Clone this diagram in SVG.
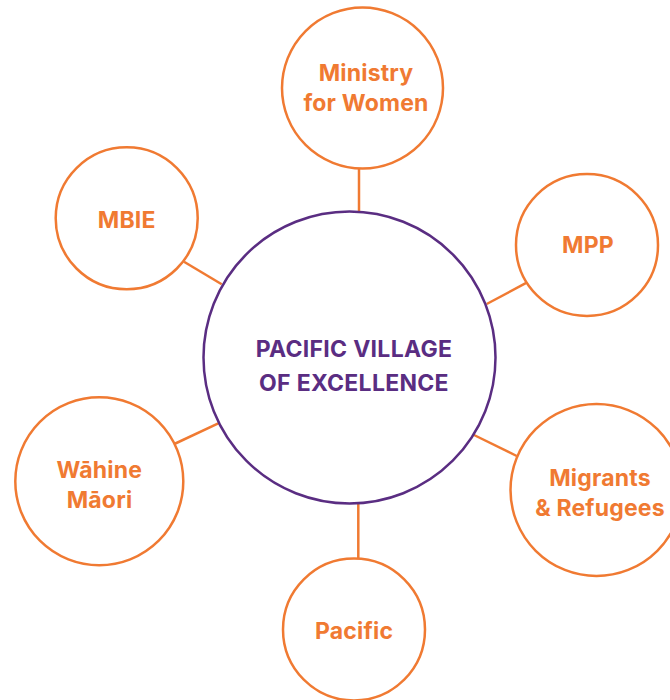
<svg xmlns="http://www.w3.org/2000/svg" width="670" height="700" viewBox="0 0 670 700">
<style>
.node{fill:#fff;stroke:#F07A32;stroke-width:2.5}
.hub{fill:#fff;stroke:#5A2D82;stroke-width:2.5}
.lbl{font-family:Inter,"Liberation Sans",sans-serif;font-weight:700;font-size:23px;letter-spacing:0.2px;fill:#F07A32;text-anchor:middle}
.hubl{font-family:Inter,"Liberation Sans",sans-serif;font-weight:700;font-size:23px;letter-spacing:0.3px;fill:#5A2D82;text-anchor:middle}
.con{stroke:#F07A32;stroke-width:2.5;fill:none}
</style>
<rect width="670" height="700" fill="#fff"/>
<g id="connectors">
<line class="con" x1="359" y1="168" x2="359" y2="212"/>
<line class="con" x1="184" y1="261.7" x2="221.7" y2="284.3"/>
<line class="con" x1="526.7" y1="282.7" x2="486.7" y2="304"/>
<line class="con" x1="516.7" y1="456" x2="474" y2="435"/>
<line class="con" x1="174.3" y1="444" x2="218.3" y2="423.3"/>
<line class="con" x1="358.3" y1="503" x2="358.3" y2="558"/>
</g>
<g id="hub">
<circle class="hub" cx="349.5" cy="357.5" r="146"/>
<text class="hubl" x="354" y="357">PACIFIC VILLAGE</text>
<text class="hubl" x="354" y="391">OF EXCELLENCE</text>
</g>
<g id="ministry">
<circle class="node" cx="362.5" cy="88" r="80.5"/>
<text class="lbl" x="366" y="81">Ministry</text>
<text class="lbl" x="366" y="111">for Women</text>
</g>
<g id="mbie">
<circle class="node" cx="126.7" cy="218.3" r="71"/>
<text class="lbl" x="126.7" y="228">MBIE</text>
</g>
<g id="mpp">
<circle class="node" cx="587" cy="245" r="71"/>
<text class="lbl" x="588" y="253">MPP</text>
</g>
<g id="migrants">
<circle class="node" cx="596.5" cy="490" r="86"/>
<text class="lbl" x="600" y="486">Migrants</text>
<text class="lbl" x="600" y="516">&amp; Refugees</text>
</g>
<g id="wahine">
<circle class="node" cx="99.3" cy="481.3" r="84"/>
<text class="lbl" x="99.3" y="478">Wāhine</text>
<text class="lbl" x="99.5" y="508">Māori</text>
</g>
<g id="pacific">
<circle class="node" cx="354" cy="629.5" r="71"/>
<text class="lbl" x="354" y="639">Pacific</text>
</g>
</svg>
